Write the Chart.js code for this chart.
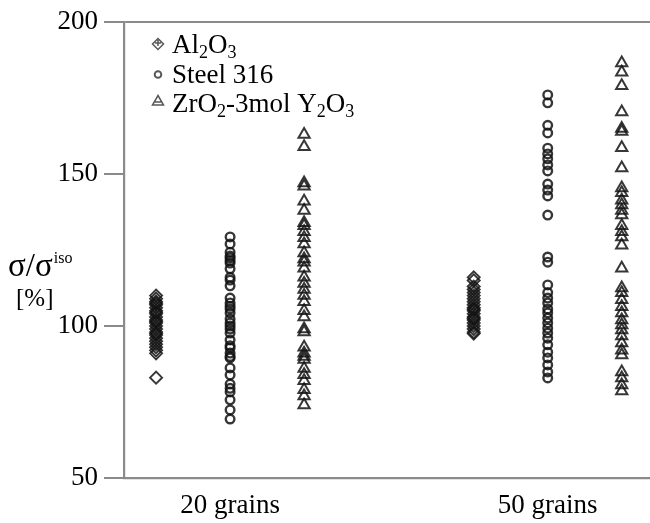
<!DOCTYPE html>
<html>
<head>
<meta charset="utf-8">
<script src="https://cdn.jsdelivr.net/npm/chart.js@4/dist/chart.umd.min.js"></script>
<style>
  html, body { margin: 0; padding: 0; background: #fff; overflow: hidden; }
  canvas { display: block; }
</style>
</head>
<body>
<canvas id="c" width="650" height="523" style="width:650px;height:523px"></canvas>
<script>
// ---- data ----
const groupLabels = ['20 grains', '50 grains'];
const yTicks = [50, 100, 150, 200];

const al2o3_20 = [110, 109, 108, 107.5, 107, 106, 105, 104.5, 104, 103, 102, 101.5, 101, 100, 99, 98, 97.5, 97, 96, 95, 94, 93, 92, 91, 83];
const al2o3_50 = [116, 115, 113, 112, 111, 110, 109, 108, 107, 106, 105.5, 105, 104, 103, 102.5, 102, 101, 100, 99, 98, 97.5];
const steel_20 = [129.3, 127, 124.3, 123, 122.4, 121.5, 120.7, 118.8, 116, 115.1, 113.2, 109.2, 107.6, 106.5, 105.6, 104.3, 102.3, 101, 100, 99, 97.7, 95.4, 93.5, 92.8, 91.1, 90, 89.5, 86.2, 83.9, 80.9, 79.5, 78.3, 75.7, 72.4, 69.4];
const steel_50 = [176, 173.4, 166, 163.5, 158.5, 156.6, 155, 153, 151, 146.7, 144.7, 142.8, 136.5, 122.7, 121, 113.5, 111, 109.2, 107.6, 105.6, 104.3, 102.6, 101, 99.3, 97.7, 96, 93.8, 91.4, 89.5, 87.2, 84.9, 82.9];
const zr_20 = [163, 159, 147, 146, 141, 138, 134, 133, 131, 129, 127, 124, 122, 121, 119, 116, 114, 112, 110, 108, 105, 103, 99, 98, 93, 91, 90, 89, 86, 84, 82, 79, 77, 74];
const zr_50 = [186.5, 183.5, 179, 170.4, 165, 164, 158.6, 152, 145.4, 143.8, 141.4, 139.8, 138, 136.5, 133, 131, 129.3, 126.6, 119, 112.5, 110.9, 108.6, 106.3, 104.3, 102, 100.3, 98.7, 96.7, 94.4, 92, 90.5, 84.9, 82.9, 80.6, 78.6];

// ---- helpers ----
const groupX = [1, 2];
const offset = 0.233;
function pts(values, gi, off) {
  return values.map(v => ({ x: groupX[gi] + off, y: v }));
}
const ink = 'rgba(20,20,20,0.85)';
const axisCol = '#8a8a8a';
const serif = '"Liberation Serif", "Times New Roman", serif';

const datasets = [
  { label: 'Al2O3', data: pts(al2o3_20, 0, -offset).concat(pts(al2o3_50, 1, -offset)),
    pointStyle: 'rectRot', pointRadius: 6, borderWidth: 1.9, borderColor: ink, backgroundColor: 'rgba(255,255,255,0)' },
  { label: 'Steel 316', data: pts(steel_20, 0, 0).concat(pts(steel_50, 1, 0)),
    pointStyle: 'circle', pointRadius: 4.3, borderWidth: 2.4, borderColor: ink, backgroundColor: 'rgba(255,255,255,0)' },
  { label: 'ZrO2-3mol Y2O3', data: pts(zr_20, 0, offset).concat(pts(zr_50, 1, offset)),
    pointStyle: 'triangle', pointRadius: 6.5, borderWidth: 2, borderColor: ink, backgroundColor: 'rgba(255,255,255,0)' }
];

// parts: [text, mode] with mode 0 normal, -1 subscript
function richText(ctx, parts, x, y, size, subSize, subDy) {
  let cx = x;
  parts.forEach(([t, m]) => {
    const s = m === 0 ? size : subSize;
    ctx.font = s + 'px ' + serif;
    ctx.fillText(t, cx, y + (m === -1 ? subDy : 0));
    cx += ctx.measureText(t).width;
  });
}

const decor = {
  id: 'decor',
  afterDraw(chart) {
    const ctx = chart.ctx;
    ctx.save();
    ctx.fillStyle = '#000';
    ctx.textBaseline = 'alphabetic';
    ctx.textAlign = 'left';
    // y-axis title
    ctx.font = '33px ' + serif;
    ctx.fillText('σ/σ', 8, 276);
    const w = ctx.measureText('σ/σ').width;
    ctx.font = '16px ' + serif;
    ctx.fillText('iso', 8 + w + 1, 263);
    ctx.font = '25px ' + serif;
    ctx.fillText('[%]', 16, 306);

    // legend markers
    const lx = 158;
    ctx.strokeStyle = 'rgba(70,70,70,0.9)';
    ctx.lineWidth = 1.5;
    let y = 44;
    ctx.beginPath();
    ctx.moveTo(lx, y - 5.5); ctx.lineTo(lx + 5.5, y); ctx.lineTo(lx, y + 5.5); ctx.lineTo(lx - 5.5, y); ctx.closePath();
    ctx.moveTo(lx, y - 4); ctx.lineTo(lx, y + 2); ctx.moveTo(lx - 3, y - 1); ctx.lineTo(lx + 3, y - 1);
    ctx.stroke();
    y = 74.5;
    ctx.lineWidth = 2;
    ctx.beginPath(); ctx.arc(lx, y, 3.3, 0, Math.PI * 2); ctx.stroke();
    y = 101;
    ctx.lineWidth = 1.5;
    ctx.beginPath();
    ctx.moveTo(lx, y - 5.5); ctx.lineTo(lx + 5.5, y + 4); ctx.lineTo(lx - 5.5, y + 4); ctx.closePath();
    ctx.moveTo(lx - 3, y + 1); ctx.lineTo(lx + 3, y + 1);
    ctx.stroke();

    // legend text
    ctx.fillStyle = '#000';
    const tx = 172;
    richText(ctx, [['Al', 0], ['2', -1], ['O', 0], ['3', -1]], tx, 53, 27, 18, 5);
    richText(ctx, [['Steel 316', 0]], tx, 83, 27, 18, 5);
    richText(ctx, [['ZrO', 0], ['2', -1], ['-3mol Y', 0], ['2', -1], ['O', 0], ['3', -1]], tx, 112, 27, 18, 5);
    ctx.restore();
  }
};

new Chart(document.getElementById('c'), {
  type: 'scatter',
  data: { datasets },
  options: {
    responsive: false,
    animation: false,
    devicePixelRatio: 1,
    layout: { autoPadding: false, padding: { top: 22, right: 0, left: 0, bottom: 0 } },
    plugins: { legend: { display: false }, tooltip: { enabled: false } },
    scales: {
      x: {
        type: 'linear',
        min: 0.666,
        max: 2.322,
        afterBuildTicks: s => { s.ticks = groupX.map(v => ({ value: v })); },
        afterFit: s => { s.height = 45; s.paddingLeft = 0; s.paddingRight = 0; },
        ticks: {
          callback: (v) => groupLabels[groupX.indexOf(v)] || '',
          color: '#000',
          font: { family: serif, size: 27 },
          padding: 12,
          maxRotation: 0
        },
        grid: { display: true, drawOnChartArea: false, drawTicks: false, color: 'transparent' },
        border: { display: true, color: axisCol, width: 2.2 }
      },
      y: {
        min: 50,
        max: 200,
        afterBuildTicks: s => { s.ticks = yTicks.map(v => ({ value: v })); },
        afterFit: s => { s.width = 124; s.paddingTop = 0; s.paddingBottom = 0; },
        ticks: {
          color: '#000',
          font: { family: serif, size: 27 },
          padding: 6
        },
        grid: {
          drawOnChartArea: true,
          color: c => (c.tick && c.tick.value === 200) ? axisCol : 'transparent',
          lineWidth: 2,
          tickLength: 20,
          tickColor: axisCol,
          tickWidth: 2
        },
        border: { display: true, color: axisCol, width: 2.2 }
      }
    }
  },
  plugins: [decor]
});
</script>
</body>
</html>
